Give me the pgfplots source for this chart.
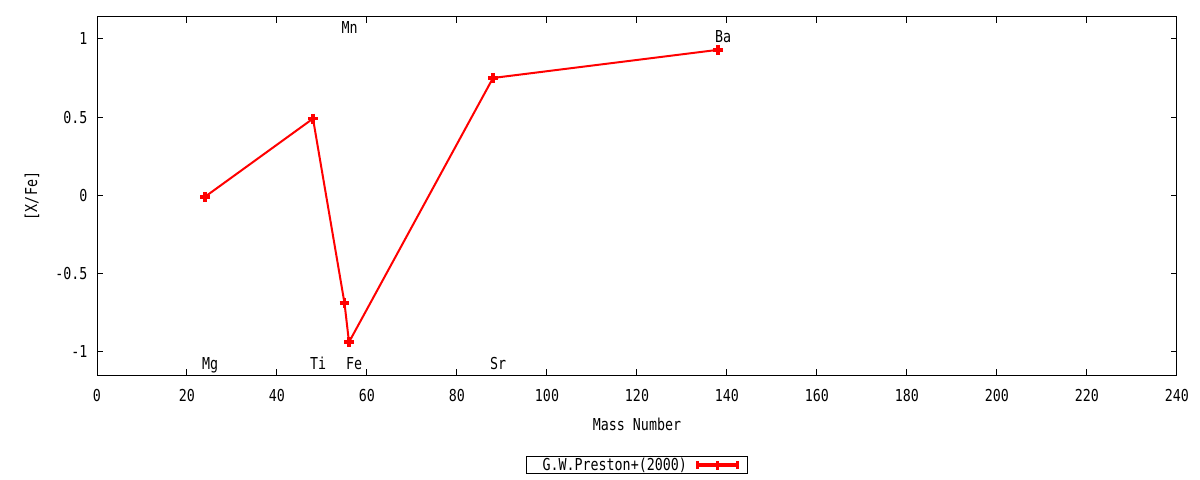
\documentclass[border=0pt]{standalone}
\usepackage{fontspec}
\setmainfont{DejaVu Sans Mono}[FakeStretch=0.81]
\usepackage{pgfplots}
\pgfplotsset{compat=1.18}
\begin{document}
\begin{tikzpicture}[font=\fontsize{16.5}{19}\selectfont]
\useasboundingbox (0bp,0bp) rectangle (1200bp,480bp);
\begin{axis}[at={(97bp,105bp)}, anchor=south west, scale only axis,
  width=1080bp, height=358bp,
  xmin=0, xmax=240, ymin=-1.15, ymax=1.14,
  xtick={0,20,...,240}, ytick={-1,-0.5,0,0.5,1},
  xtick pos=both, ytick pos=both,
  tick align=inside, major tick length=6bp,
  axis line style={line width=1bp, black},
  tick style={line width=1bp, black},
  /pgf/number format/assume math mode=true,
  xticklabel style={yshift=-11bp},
  yticklabel style={xshift=-6bp},
  xlabel={Mass Number}, ylabel={[X/Fe]},
  every axis x label/.style={at={(axis description cs:0.5,0)}, anchor=center, yshift=-49bp},
  every axis y label/.style={at={(axis description cs:0,0.5)}, xshift=-65bp, rotate=90, anchor=center},
  legend style={at={(axis description cs:0.5,0)}, anchor=center, yshift=-90bp,
    draw=black, line width=1bp, inner xsep=8bp, inner ysep=0bp,
    legend plot pos=right, legend cell align=right},
  legend image code/.code={
    \draw[red, line width=3.5bp] (0,0) -- (40bp,0);
    \draw[red, line width=3.5bp] (0,-4bp) -- (0,4bp);
    \draw[red, line width=3.5bp] (40bp,-4bp) -- (40bp,4bp);
    \draw[red, line width=3.5bp] (20bp,-4.5bp) -- (20bp,4.5bp);
  },
]
\addplot[red, line width=2bp, mark=+, mark size=5, mark options={line width=3.5bp}]
  coordinates {(24,-0.01) (48,0.49) (55,-0.69) (56,-0.94) (88,0.75) (138,0.93)};
\addlegendentry{\kern6bp G.W.Preston+(2000)\kern7bp\relax}
\node[anchor=base west, inner sep=0, xshift=-3bp] at (axis cs:24,-1.117) {Mg};
\node[anchor=base west, inner sep=0, xshift=-3bp] at (axis cs:48,-1.117) {Ti};
\node[anchor=base west, inner sep=0, xshift=-3bp] at (axis cs:55,1.034) {Mn};
\node[anchor=base west, inner sep=0, xshift=-3bp] at (axis cs:56,-1.117) {Fe};
\node[anchor=base west, inner sep=0, xshift=-3bp] at (axis cs:88,-1.117) {Sr};
\node[anchor=base west, inner sep=0, xshift=-3bp] at (axis cs:138,0.977) {Ba};
\end{axis}
\end{tikzpicture}
\end{document}
